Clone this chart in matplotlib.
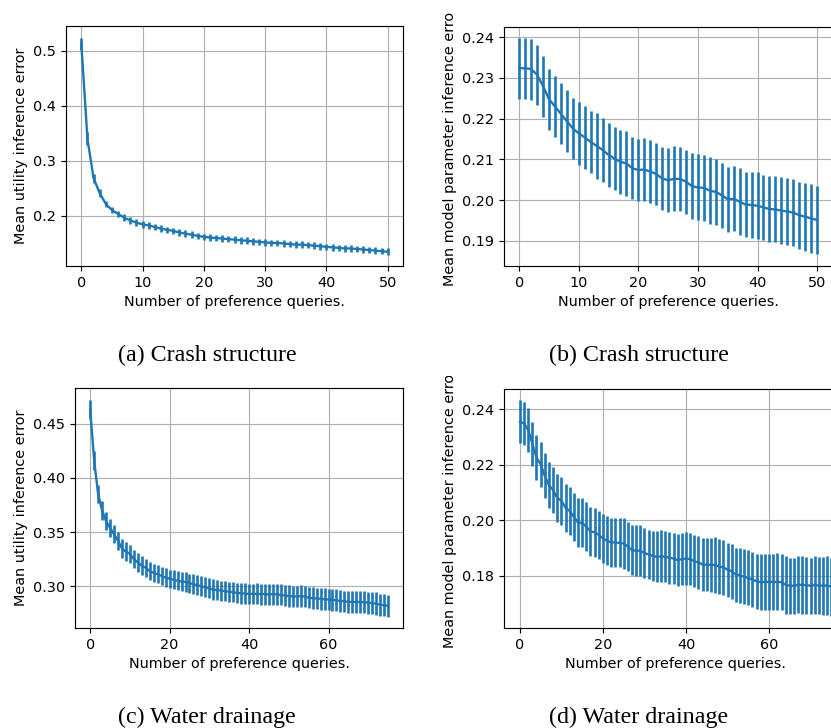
import matplotlib
matplotlib.use("Agg")
import matplotlib.pyplot as plt
from matplotlib.transforms import Bbox, TransformedBbox

# ---------------- data ----------------
queries_a = list(range(51))
mean_a = [0.513, 0.340, 0.268, 0.241, 0.221, 0.210, 0.203, 0.196, 0.191, 0.187,
          0.184, 0.182, 0.179, 0.176, 0.174, 0.172, 0.169, 0.167, 0.165, 0.163,
          0.161, 0.160, 0.159, 0.158, 0.157, 0.156, 0.155, 0.154, 0.153, 0.152,
          0.151, 0.150, 0.150, 0.149, 0.148, 0.147, 0.147, 0.146, 0.145, 0.144,
          0.143, 0.142, 0.141, 0.140, 0.140, 0.139, 0.138, 0.137, 0.136, 0.135,
          0.134]
err_a = [0.011, 0.012, 0.008, 0.007, 0.006, 0.006, 0.006, 0.006, 0.006, 0.006,
         0.006, 0.006, 0.006, 0.006, 0.006, 0.006, 0.006, 0.006, 0.006, 0.006,
         0.006, 0.006, 0.006, 0.006, 0.006, 0.006, 0.006, 0.006, 0.006, 0.006,
         0.006, 0.006, 0.006, 0.006, 0.006, 0.006, 0.006, 0.006, 0.006, 0.006,
         0.006, 0.006, 0.006, 0.006, 0.006, 0.006, 0.006, 0.006, 0.006, 0.006,
         0.006]

queries_b = list(range(51))
mean_b = [0.2324, 0.2324, 0.2322, 0.2308, 0.2280, 0.2248, 0.2230, 0.2212, 0.2194, 0.2176,
          0.2164, 0.2154, 0.2143, 0.2133, 0.2123, 0.2111, 0.2102, 0.2094, 0.2090, 0.2078,
          0.2074, 0.2075, 0.2070, 0.2064, 0.2053, 0.2049, 0.2052, 0.2052, 0.2045, 0.2034,
          0.2031, 0.2030, 0.2023, 0.2020, 0.2012, 0.2002, 0.2003, 0.1996, 0.1989, 0.1988,
          0.1986, 0.1982, 0.1978, 0.1977, 0.1974, 0.1972, 0.1969, 0.1963, 0.1959, 0.1955,
          0.1951]
err_b = [0.0075, 0.0075, 0.0075, 0.0074, 0.0075, 0.0075, 0.0075, 0.0075, 0.0076, 0.0076,
         0.0077, 0.0078, 0.0077, 0.0080, 0.0079, 0.0078, 0.0078, 0.0078, 0.0079, 0.0076,
         0.0076, 0.0078, 0.0077, 0.0077, 0.0078, 0.0079, 0.0080, 0.0079, 0.0078, 0.0081,
         0.0081, 0.0081, 0.0082, 0.0082, 0.0080, 0.0080, 0.0080, 0.0082, 0.0080, 0.0081,
         0.0082, 0.0080, 0.0082, 0.0081, 0.0082, 0.0082, 0.0083, 0.0082, 0.0083, 0.0084,
         0.0084]

queries_c = list(range(76))
mean_c = [0.463, 0.416, 0.385, 0.370, 0.360, 0.354, 0.348, 0.342, 0.335, 0.332,
          0.330, 0.325, 0.322, 0.319, 0.317, 0.314, 0.3125, 0.311, 0.3095, 0.308,
          0.307, 0.306, 0.305, 0.3045, 0.304, 0.303, 0.302, 0.301, 0.300, 0.299,
          0.298, 0.297, 0.2965, 0.296, 0.2955, 0.295, 0.2945, 0.294, 0.2935, 0.2932,
          0.293, 0.293, 0.293, 0.2928, 0.2928, 0.2925, 0.2928, 0.2925, 0.292, 0.2915,
          0.291, 0.2908, 0.2905, 0.291, 0.2905, 0.2895, 0.289, 0.2888, 0.2885, 0.288,
          0.2878, 0.2875, 0.287, 0.2865, 0.286, 0.2858, 0.2855, 0.2855, 0.2855, 0.2852,
          0.285, 0.2845, 0.284, 0.283, 0.2825, 0.282]
err_c = [0.0085, 0.0085, 0.0085, 0.0085, 0.0085, 0.0085, 0.0085, 0.0085, 0.0085, 0.0085,
         0.0085, 0.0085, 0.0085, 0.0089, 0.0085, 0.0085, 0.0085, 0.0084, 0.0085, 0.0085,
         0.0085, 0.0087, 0.0088, 0.0088, 0.0089, 0.0088, 0.0090, 0.0090, 0.0091, 0.0092,
         0.0092, 0.0093, 0.0093, 0.0093, 0.0094, 0.0094, 0.0094, 0.0095, 0.0095, 0.0095,
         0.0095, 0.0095, 0.0096, 0.0096, 0.0096, 0.0097, 0.0097, 0.0097, 0.0097, 0.0098,
         0.0098, 0.0098, 0.0099, 0.0100, 0.0099, 0.0099, 0.0100, 0.0100, 0.0100, 0.0100,
         0.0100, 0.0100, 0.0101, 0.0101, 0.0101, 0.0101, 0.0101, 0.0102, 0.0102, 0.0102,
         0.0102, 0.0102, 0.0103, 0.0103, 0.0103, 0.0103]

queries_d = list(range(76))
mean_d = [0.2354, 0.2348, 0.2325, 0.2275, 0.2225, 0.2201, 0.2159, 0.2126, 0.2108, 0.2080,
          0.2070, 0.2044, 0.2033, 0.2012, 0.1991, 0.1990, 0.1976, 0.1960, 0.1956, 0.1947,
          0.1934, 0.1926, 0.1920, 0.1920, 0.1918, 0.1916, 0.1905, 0.1892, 0.1890, 0.1890,
          0.1881, 0.1877, 0.1871, 0.1868, 0.1870, 0.1868, 0.1865, 0.1862, 0.1856, 0.1860,
          0.1862, 0.1860, 0.1852, 0.1848, 0.1840, 0.1840, 0.1839, 0.1839, 0.1833, 0.1830,
          0.1822, 0.1816, 0.1804, 0.1802, 0.1796, 0.1792, 0.1786, 0.1780, 0.1777, 0.1778,
          0.1778, 0.1778, 0.1778, 0.1777, 0.1767, 0.1764, 0.1764, 0.1768, 0.1767, 0.1766,
          0.1764, 0.1766, 0.1765, 0.1764, 0.1765, 0.1760]
err_d = [0.0078, 0.0078, 0.0079, 0.0080, 0.0081, 0.0081, 0.0081, 0.0084, 0.0084, 0.0085,
         0.0086, 0.0086, 0.0087, 0.0087, 0.0087, 0.0088, 0.0088, 0.0088, 0.0088, 0.0087,
         0.0088, 0.0088, 0.0088, 0.0088, 0.0088, 0.0091, 0.0089, 0.0090, 0.0092, 0.0092,
         0.0090, 0.0089, 0.0089, 0.0092, 0.0093, 0.0092, 0.0093, 0.0093, 0.0094, 0.0094,
         0.0096, 0.0094, 0.0094, 0.0094, 0.0096, 0.0096, 0.0097, 0.0100, 0.0098, 0.0098,
         0.0097, 0.0100, 0.0097, 0.0099, 0.0099, 0.0099, 0.0098, 0.0100, 0.0102, 0.0101,
         0.0101, 0.0101, 0.0103, 0.0102, 0.0104, 0.0101, 0.0101, 0.0103, 0.0104, 0.0103,
         0.0101, 0.0105, 0.0103, 0.0104, 0.0105, 0.0105]

xlabel = "Number of preference queries."
ylabel_util = "Mean utility inference error"
ylabel_param = "Mean model parameter inference error"
captions = ["(a) Crash structure", "(b) Crash structure",
            "(c) Water drainage", "(d) Water drainage"]

# ---------------- figure ----------------
W, H = 831, 728
fs = 10.4
plt.rcParams.update({
    "font.family": "DejaVu Sans",
    "font.size": fs,
    "axes.linewidth": 0.83,
    "xtick.major.width": 0.83,
    "ytick.major.width": 0.83,
    "xtick.major.size": 3.6,
    "ytick.major.size": 3.6,
})
fig = plt.figure(figsize=(W / 100, H / 100), dpi=100)


def axes_px(left, top, right, bottom):
    return fig.add_axes([left / W, 1 - bottom / H, (right - left) / W, (bottom - top) / H])


color = "#1f77b4"
lw = 1.7
elw = 1.9

panels = [
    dict(box=(66, 26, 403, 266), x=queries_a, y=mean_a, e=err_a, ylab=ylabel_util,
         ylim=(0.108, 0.5455), yt=[0.2, 0.3, 0.4, 0.5], ytl=["0.2", "0.3", "0.4", "0.5"],
         xt=[0, 10, 20, 30, 40, 50], clip=None),
    dict(box=(504.3, 26.7, 832.0, 266), x=queries_b, y=mean_b, e=err_b, ylab=ylabel_param,
         ylim=(0.1838, 0.2426), yt=[0.19, 0.20, 0.21, 0.22, 0.23, 0.24],
         ytl=["0.19", "0.20", "0.21", "0.22", "0.23", "0.24"],
         xt=[0, 10, 20, 30, 40, 50], clip=13),
    dict(box=(75.3, 388.3, 403, 627.7), x=queries_c, y=mean_c, e=err_c, ylab=ylabel_util,
         ylim=(0.2618, 0.4827), yt=[0.30, 0.35, 0.40, 0.45],
         ytl=["0.30", "0.35", "0.40", "0.45"], xt=[0, 20, 40, 60], clip=None),
    dict(box=(504.3, 389, 847, 627.7), x=queries_d, y=mean_d, e=err_d, ylab=ylabel_param,
         ylim=(0.1613, 0.2472), yt=[0.18, 0.20, 0.22, 0.24],
         ytl=["0.18", "0.20", "0.22", "0.24"], xt=[0, 20, 40, 60], clip=376),
]

for p in panels:
    ax = axes_px(*p["box"])
    ax.errorbar(p["x"], p["y"], yerr=p["e"], color=color, linewidth=lw, elinewidth=elw)
    ax.set_ylim(*p["ylim"])
    ax.set_yticks(p["yt"])
    ax.set_yticklabels(p["ytl"])
    ax.set_xticks(p["xt"])
    ax.grid(True, color="#b0b0b0", linewidth=0.83)
    ax.set_axisbelow(True)
    ax.set_xlabel(xlabel, fontsize=fs)
    lab = ax.set_ylabel(p["ylab"], fontsize=fs)
    if p["clip"] is not None:
        lab.set_clip_on(True)
        lab.set_clip_box(TransformedBbox(Bbox([[0, 0], [1, 1 - p["clip"] / H]]),
                                         fig.transFigure))

cap_pos = [(207, 355), (639, 355), (207, 717), (639, 717)]
for txt, (cx, cy) in zip(captions, cap_pos):
    fig.text(cx / W, 1 - cy / H, txt, ha="center", va="center",
             family="Liberation Serif", fontsize=17.3)

fig.savefig("out.png", dpi=100)
